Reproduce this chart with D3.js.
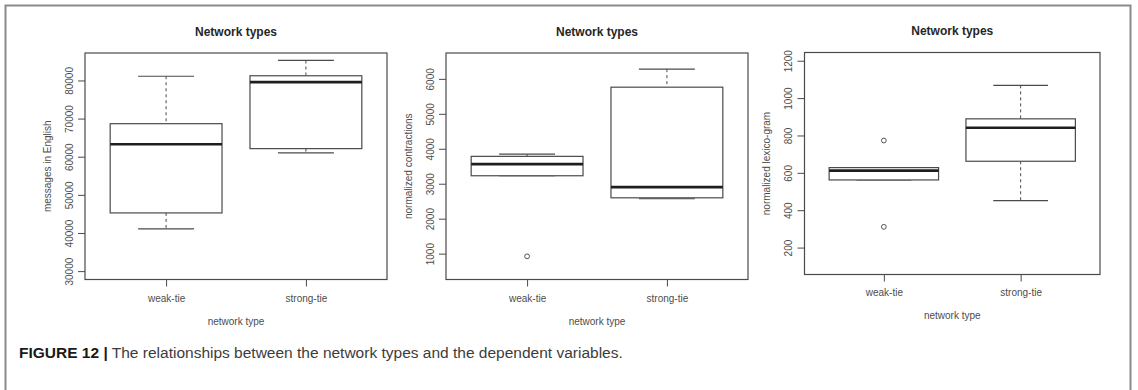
<!DOCTYPE html>
<html>
<head>
<meta charset="utf-8">
<script src="https://cdn.jsdelivr.net/npm/d3@7"></script>
<style>
  html, body { margin: 0; padding: 0; background: #fff; }
  svg { display: block; }
  text { font-family: "Liberation Sans", Arial, Helvetica, sans-serif; }
</style>
</head>
<body>
<svg id="chart" width="1138" height="390"></svg>
<script>
// ---------------- data ----------------
const categories = ["weak-tie", "strong-tie"];
const panelTitles = ["Network types", "Network types", "Network types"];
const xAxisTitles = ["network type", "network type", "network type"];
const yAxisTitles = ["messages in English", "normalized contractions", "normalized lexico-gram"];

// box stats per category: [lower whisker, Q1, median, Q3, upper whisker]
const englishStats     = [[41070, 45260, 63250, 68660, 81100], [61000, 62120, 79560, 81230, 85240]];
const contractionStats = [[3228, 3228, 3562, 3783, 3849],     [2570, 2597, 2903, 5762, 6278]];
const lexicoStats      = [[562, 562, 612, 628, 628],          [451, 662, 841, 889, 1068]];

const englishOutliers     = [[], []];
const contractionOutliers = [[923], []];
const lexicoOutliers      = [[311, 773], []];

const englishTicks     = [30000, 40000, 50000, 60000, 70000, 80000];
const contractionTicks = [1000, 2000, 3000, 4000, 5000, 6000];
const lexicoTicks      = [200, 400, 600, 800, 1000, 1200];

const englishLimits     = [30000, 85000];
const contractionLimits = [500, 6500];
const lexicoLimits      = [100, 1200];

const captionBold = "FIGURE 12 |";
const captionText = " The relationships between the network types and the dependent variables.";

// ---------------- layout ----------------
const layout = [
  { l: 85,  r: 387,  t: 53,   b: 279.5, titleY: 32,   tickY: 298, xlabY: 321 },
  { l: 446, r: 748,  t: 53,   b: 279.5, titleY: 32,   tickY: 298, xlabY: 321 },
  { l: 804.5, r: 1100, t: 52.5, b: 274.5, titleY: 31, tickY: 292, xlabY: 315 }
];

const panels = [
  { stats: englishStats, outliers: englishOutliers, ticks: englishTicks, limits: englishLimits },
  { stats: contractionStats, outliers: contractionOutliers, ticks: contractionTicks, limits: contractionLimits },
  { stats: lexicoStats, outliers: lexicoOutliers, ticks: lexicoTicks, limits: lexicoLimits }
];

const svg = d3.select("#chart");
svg.append("rect").attr("width", 1138).attr("height", 390).attr("fill", "#fff");

// outer frame (open at the bottom)
svg.append("path")
  .attr("d", "M5.5,392 L5.5,5.5 L1130.5,5.5 L1130.5,392")
  .attr("fill", "none").attr("stroke", "#8a8a8a").attr("stroke-width", 2);

const lineCol = "#4a4a4a";
const textCol = "#4d4d4d";

panels.forEach((p, i) => {
  const L = layout[i];
  const g = svg.append("g");

  const pad = (p.limits[1] - p.limits[0]) * 0.04;
  const y = d3.scaleLinear().domain([p.limits[0] - pad, p.limits[1] + pad]).range([L.b, L.t]);
  const x = d3.scaleLinear().domain([0.42, 2.58]).range([L.l, L.r]);
  const boxW = x(0.8) - x(0);
  const capW = x(0.4) - x(0);

  // title
  g.append("text")
    .attr("x", (L.l + L.r) / 2).attr("y", L.titleY).attr("dy", "0.35em")
    .attr("text-anchor", "middle").attr("font-size", 12).attr("font-weight", "bold")
    .attr("fill", "#262626").text(panelTitles[i]);

  // y axis
  const yAxis = d3.axisLeft(y).tickValues(p.ticks).tickSize(7).tickFormat(d3.format("d"));
  const ya = g.append("g").attr("transform", `translate(${L.l},0)`).call(yAxis);
  ya.select(".domain").remove();
  ya.selectAll(".tick line").attr("stroke", lineCol);
  ya.selectAll(".tick text")
    .attr("x", null).attr("dy", null)
    .attr("transform", "translate(-16,0) rotate(-90)")
    .attr("dy", "0.35em")
    .attr("text-anchor", "middle")
    .attr("font-size", 10).attr("fill", textCol)
    .attr("font-family", "'Liberation Sans', Arial, sans-serif");

  // x axis
  const xAxis = d3.axisBottom(x).tickValues([1, 2]).tickSize(7).tickFormat((d) => categories[d - 1]);
  const xa = g.append("g").attr("transform", `translate(0,${L.b})`).call(xAxis);
  xa.select(".domain").remove();
  xa.selectAll(".tick line").attr("stroke", lineCol);
  xa.selectAll(".tick text")
    .attr("y", L.tickY - L.b).attr("dy", "0.35em")
    .attr("font-size", 10).attr("fill", textCol)
    .attr("font-family", "'Liberation Sans', Arial, sans-serif");

  // axis titles
  g.append("text")
    .attr("x", (L.l + L.r) / 2).attr("y", L.xlabY).attr("dy", "0.35em")
    .attr("text-anchor", "middle").attr("font-size", 10).attr("fill", textCol)
    .text(xAxisTitles[i]);
  g.append("text")
    .attr("transform", `translate(${L.l - 38},${(L.t + L.b) / 2}) rotate(-90)`)
    .attr("dy", "0.35em")
    .attr("text-anchor", "middle").attr("font-size", 10).attr("fill", textCol)
    .text(yAxisTitles[i]);

  // boxes
  p.stats.forEach((s, k) => {
    const cx = x(k + 1);
    const [lo, q1, med, q3, hi] = s;
    // whiskers (dashed)
    g.append("line").attr("x1", cx).attr("x2", cx).attr("y1", y(hi)).attr("y2", y(q3))
      .attr("stroke", lineCol).attr("stroke-width", 1).attr("stroke-dasharray", "3,3");
    g.append("line").attr("x1", cx).attr("x2", cx).attr("y1", y(q1)).attr("y2", y(lo))
      .attr("stroke", lineCol).attr("stroke-width", 1).attr("stroke-dasharray", "3,3");
    // staples
    [lo, hi].forEach((v) => {
      g.append("line").attr("x1", cx - capW / 2).attr("x2", cx + capW / 2)
        .attr("y1", y(v)).attr("y2", y(v))
        .attr("stroke", lineCol).attr("stroke-width", 1.2);
    });
    // box
    g.append("rect").attr("x", cx - boxW / 2).attr("width", boxW)
      .attr("y", y(q3)).attr("height", y(q1) - y(q3))
      .attr("fill", "#fff").attr("stroke", lineCol).attr("stroke-width", 1.2);
    // median
    g.append("line").attr("x1", cx - boxW / 2).attr("x2", cx + boxW / 2)
      .attr("y1", y(med)).attr("y2", y(med))
      .attr("stroke", "#1e1e1e").attr("stroke-width", 2.6);
    // outliers
    p.outliers[k].forEach((v) => {
      g.append("circle").attr("cx", cx).attr("cy", y(v)).attr("r", 2.4)
        .attr("fill", "none").attr("stroke", "#555").attr("stroke-width", 1);
    });
  });

  // plot frame
  g.append("rect").attr("x", L.l).attr("y", L.t)
    .attr("width", L.r - L.l).attr("height", L.b - L.t)
    .attr("fill", "none").attr("stroke", lineCol).attr("stroke-width", 1.2);
});

// caption
const cap = svg.append("text").attr("x", 19).attr("y", 357.5).attr("font-size", 15.5).attr("fill", "#3c3c3c");
cap.append("tspan").attr("font-weight", "bold").attr("fill", "#1a1a1a").text(captionBold);
cap.append("tspan").text(captionText);
</script>
</body>
</html>
